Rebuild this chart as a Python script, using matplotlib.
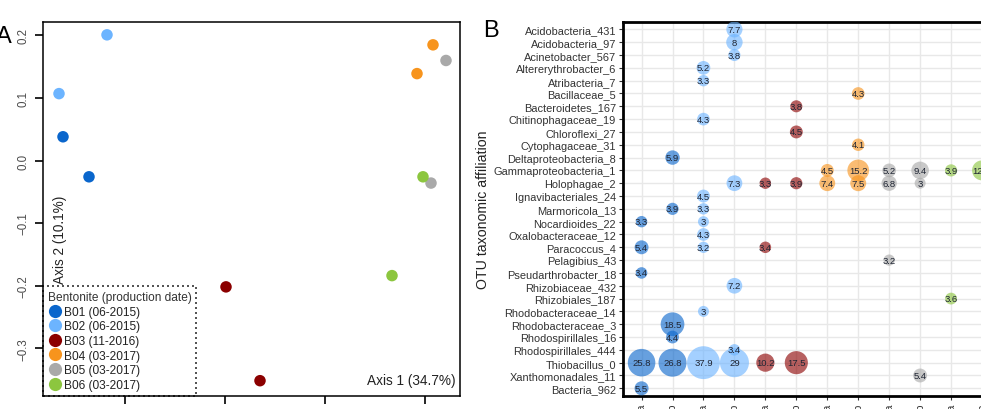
import matplotlib
matplotlib.use("Agg")
import matplotlib.pyplot as plt
from matplotlib.lines import Line2D
import numpy as np

plt.rcParams['font.family'] = ['Liberation Sans', 'DejaVu Sans']

# ---------------- Panel A data (PCoA) ----------------
groups = ["B01", "B02", "B03", "B04", "B05", "B06"]
group_labels = ["B01 (06-2015)", "B02 (06-2015)", "B03 (11-2016)",
                "B04 (03-2017)", "B05 (03-2017)", "B06 (03-2017)"]
group_colors = ["#0a66cc", "#6cb4ff", "#8b0000", "#f7941d", "#a9a9a9", "#8cc63f"]
pcoa_x = {"B01": [-0.524, -0.472], "B02": [-0.436, -0.532], "B03": [-0.198, -0.130],
          "B04": [0.216, 0.184], "B05": [0.242, 0.212], "B06": [0.196, 0.134]}
pcoa_y = {"B01": [0.038, -0.026], "B02": [0.201, 0.107], "B03": [-0.202, -0.352],
          "B04": [0.185, 0.139], "B05": [0.160, -0.036], "B06": [-0.026, -0.184]}
a_xticks = [-0.4, -0.2, 0.0, 0.2]
a_yticks = [0.2, 0.1, 0.0, -0.1, -0.2, -0.3]

# ---------------- Panel B data (bubble) ----------------
otus = ["Acidobacteria_431", "Acidobacteria_97", "Acinetobacter_567", "Altererythrobacter_6",
        "Atribacteria_7", "Bacillaceae_5", "Bacteroidetes_167", "Chitinophagaceae_19",
        "Chloroflexi_27", "Cytophagaceae_31", "Deltaproteobacteria_8", "Gammaproteobacteria_1",
        "Holophagae_2", "Ignavibacteriales_24", "Marmoricola_13", "Nocardioides_22",
        "Oxalobacteraceae_12", "Paracoccus_4", "Pelagibius_43", "Pseudarthrobacter_18",
        "Rhizobiaceae_432", "Rhizobiales_187", "Rhodobacteraceae_14", "Rhodobacteraceae_3",
        "Rhodospirillales_16", "Rhodospirillales_444", "Thiobacillus_0", "Xanthomonadales_11",
        "Bacteria_962"]
samples = ["B01a", "B01b", "B02a", "B02b", "B03a", "B03b",
           "B04a", "B04b", "B05a", "B05b", "B06a", "B06b"]
sample_group = ["B01", "B01", "B02", "B02", "B03", "B03",
                "B04", "B04", "B05", "B05", "B06", "B06"]
# (otu, sample, relative abundance %)
bubble_otu = ["Acidobacteria_431", "Acidobacteria_97", "Acinetobacter_567", "Altererythrobacter_6",
              "Atribacteria_7", "Bacillaceae_5", "Bacteroidetes_167", "Chitinophagaceae_19",
              "Chloroflexi_27", "Cytophagaceae_31", "Deltaproteobacteria_8",
              "Gammaproteobacteria_1", "Gammaproteobacteria_1", "Gammaproteobacteria_1",
              "Gammaproteobacteria_1", "Gammaproteobacteria_1", "Gammaproteobacteria_1",
              "Holophagae_2", "Holophagae_2", "Holophagae_2", "Holophagae_2", "Holophagae_2",
              "Holophagae_2", "Holophagae_2",
              "Ignavibacteriales_24", "Marmoricola_13", "Marmoricola_13",
              "Nocardioides_22", "Nocardioides_22", "Oxalobacteraceae_12",
              "Paracoccus_4", "Paracoccus_4", "Paracoccus_4", "Pelagibius_43",
              "Pseudarthrobacter_18", "Rhizobiaceae_432", "Rhizobiales_187",
              "Rhodobacteraceae_14", "Rhodobacteraceae_3", "Rhodospirillales_16",
              "Rhodospirillales_444",
              "Thiobacillus_0", "Thiobacillus_0", "Thiobacillus_0", "Thiobacillus_0",
              "Thiobacillus_0", "Thiobacillus_0",
              "Xanthomonadales_11", "Bacteria_962"]
bubble_sample = ["B02b", "B02b", "B02b", "B02a",
                 "B02a", "B04b", "B03b", "B02a",
                 "B03b", "B04b", "B01b",
                 "B04a", "B04b", "B05a", "B05b", "B06a", "B06b",
                 "B02b", "B03a", "B03b", "B04a", "B04b", "B05a", "B05b",
                 "B02a", "B01b", "B02a",
                 "B01a", "B02a", "B02a",
                 "B01a", "B02a", "B03a", "B05a",
                 "B01a", "B02b", "B06a",
                 "B02a", "B01b", "B01b",
                 "B02b",
                 "B01a", "B01b", "B02a", "B02b", "B03a", "B03b",
                 "B05b", "B01a"]
bubble_value = [7.7, 8, 3.8, 5.2,
                3.3, 4.3, 3.8, 4.3,
                4.5, 4.1, 5.9,
                4.5, 15.2, 5.2, 9.4, 3.9, 12.6,
                7.3, 3.3, 3.9, 7.4, 7.5, 6.8, 3,
                4.5, 3.9, 3.3,
                3.3, 3, 4.3,
                5.4, 3.2, 3.4, 3.2,
                3.4, 7.2, 3.6,
                3, 18.5, 4.4,
                3.4,
                25.8, 26.8, 37.9, 29, 10.2, 17.5,
                5.4, 5.5]

W, H = 981, 410
fig = plt.figure(figsize=(W / 100, H / 100), dpi=100)

# ================= Panel A =================
axA = fig.add_axes([43 / W, (H - 396.7) / H, (460 - 43) / W, (396.7 - 22.7) / H])
for g, c in zip(groups, group_colors):
    axA.scatter(pcoa_x[g], pcoa_y[g], s=(11.5 * 0.72) ** 2, color=c, edgecolors='none', zorder=3)
axA.set_xlim(-0.564, 0.27)
axA.set_ylim(-0.376, 0.222)
axA.set_xticks(a_xticks)
axA.set_xticklabels(["" for _ in a_xticks])
axA.set_yticks(a_yticks)
axA.set_yticklabels([f"{v:.1f}".replace("-", "\u2212") for v in a_yticks],
                    rotation=90, va='center', fontsize=8.3)
axA.tick_params(axis='both', direction='out', length=6, width=1.2, colors='black',
                labelcolor='#4a4a4a', pad=4)
for sp in axA.spines.values():
    sp.set_linewidth(1.1)
    sp.set_color('black')
axA.text(0.025, 0.3, "Axis 2 (10.1%)", transform=axA.transAxes, rotation=90,
         ha='left', va='bottom', fontsize=9.8, color='#222222')
axA.text(0.99, 0.022, "Axis 1 (34.7%)", transform=axA.transAxes,
         ha='right', va='bottom', fontsize=9.8, color='#222222')

handles = [Line2D([0], [0], marker='o', linestyle='none', markersize=9.5,
                  markerfacecolor=c, markeredgecolor='none') for c in group_colors]
leg = axA.legend(handles, group_labels, title="Bentonite (production date)",
                 loc='lower left', bbox_to_anchor=(0.0, 0.0), borderaxespad=0.0,
                 fontsize=8.6, title_fontsize=8.6, frameon=True, fancybox=False,
                 handletextpad=0.2, labelspacing=0.22, borderpad=0.4,
                 handlelength=1.2, alignment='left')
fr = leg.get_frame()
fr.set_linestyle((0, (1.2, 1.8)))
fr.set_edgecolor('black')
fr.set_linewidth(1.2)
fr.set_facecolor('none')
leg.get_title().set_color('#333333')
for t in leg.get_texts():
    t.set_color('#222222')

fig.text(-0.004, 0.91, "A", fontsize=17, ha='left', va='center')

# ================= Panel B =================
axB = fig.add_axes([623 / W, (H - 397) / H, (1000.6 - 623) / W, (397 - 22.7) / H])
col_of = {s: i for i, s in enumerate(samples)}
row_of = {o: i for i, o in enumerate(otus)}
gcolor = dict(zip(groups, group_colors))
bx = np.array([col_of[s] for s in bubble_sample], dtype=float)
by = np.array([row_of[o] for o in bubble_otu], dtype=float)
bv = np.array(bubble_value, dtype=float)
bc = [gcolor[sample_group[col_of[s]]] for s in bubble_sample]
diam_px = 2.4 + 4.95 * np.sqrt(bv)
axB.scatter(bx, by, s=(diam_px * 0.72) ** 2, c=bc, alpha=0.62, edgecolors='none', zorder=3)
for x, y, v in zip(bx, by, bv):
    axB.text(x, y, f"{v:g}", ha='center', va='center', fontsize=6.8,
             color='#1f2533', zorder=4, clip_on=True)
axB.set_xlim(-0.6, len(samples) - 0.4)
axB.set_ylim(len(otus) - 0.4, -0.6)
axB.set_xticks(range(len(samples)))
axB.set_xticklabels(samples, rotation=90, fontsize=7.8, color='#333333')
axB.set_yticks(range(len(otus)))
axB.set_yticklabels(otus, fontsize=7.9, color='#333333')
axB.tick_params(axis='both', direction='out', length=3, width=0.8, colors='#333333', pad=2)
axB.grid(True, color='#e8e8e8', linewidth=1.0, zorder=0)
axB.set_axisbelow(True)
for sp in axB.spines.values():
    sp.set_linewidth(2.0)
    sp.set_color('black')
axB.set_ylabel("OTU taxonomic affiliation", fontsize=10.2, color='#222222', labelpad=3)

fig.text(483 / W, 0.925, "B", fontsize=17, ha='left', va='center')

fig.savefig("out.png", dpi=100)
